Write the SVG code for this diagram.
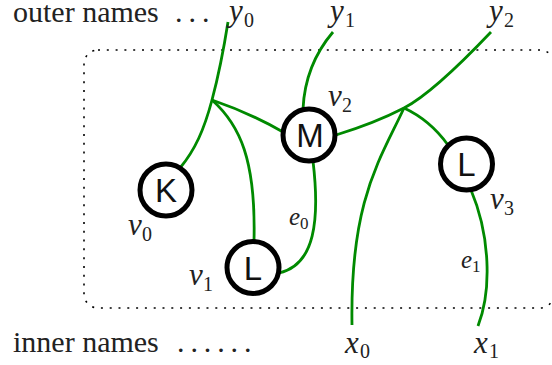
<svg xmlns="http://www.w3.org/2000/svg" width="552" height="365" viewBox="0 0 552 365">
<style>
.lbl{font-family:"Liberation Serif","Times New Roman",serif;font-size:30px;fill:#222}
.mi{font-family:"Liberation Serif","Times New Roman",serif;font-style:italic;font-size:31px;fill:#222}
.sub{font-family:"Liberation Serif","Times New Roman",serif;font-size:20px;fill:#222}
.me{font-family:"Liberation Serif","Times New Roman",serif;font-style:italic;font-size:25px;fill:#222}
.sube{font-family:"Liberation Serif","Times New Roman",serif;font-size:17px;fill:#222}
.edge{fill:none;stroke:#008a00;stroke-width:2.8;stroke-linecap:butt}
.node circle{fill:#fff;stroke:#000;stroke-width:5}
.node text{font-family:"Liberation Sans",Arial,sans-serif;font-size:33px;fill:#111;text-anchor:middle}
</style>
<rect x="84" y="50" width="470" height="258" rx="14" fill="none" stroke="#000" stroke-width="1.6" stroke-dasharray="2 6.8"/>
<text class="lbl" y="22"><tspan x="13">outer names</tspan><tspan x="175" letter-spacing="6">...</tspan></text>
<text class="lbl" y="352"><tspan x="13">inner names</tspan><tspan x="177" letter-spacing="5.9">......</tspan></text>
<g id="connectors">
<path class="edge" d="M228,22 C222,60 216,85 212,100 C204,130 195,150 180,168"/>
<path class="edge" d="M212,100 C240,125 256,160 254,241"/>
<path class="edge" d="M212,100 Q250,113 283,132"/>
<path class="edge" d="M333,32 Q305,65 303,109"/>
<path class="edge" d="M336,135 Q375,123 404,108 T491,32"/>
<path class="edge" d="M404,108 C380,160 350,200 352,325"/>
<path class="edge" d="M404,108 Q430,120 448,145"/>
<path class="edge" d="M471,190 C490,235 492,290 478,326"/>
<path class="edge" d="M313,161 C320,220 315,265 279,273"/>
</g>
<g id="v0" class="node"><circle cx="166" cy="190" r="26"/><text x="166" y="202">K</text></g>
<g id="v1" class="node"><circle cx="253" cy="267.5" r="26"/><text x="253" y="279.5">L</text></g>
<g id="v2" class="node"><circle cx="309" cy="135" r="26"/><text x="310" y="147">M</text></g>
<g id="v3" class="node"><circle cx="466.5" cy="164" r="26"/><text x="466.5" y="176">L</text></g>
<g id="labels">
<text class="mi" x="229" y="21">y</text><text class="sub" x="244" y="27">0</text>
<text class="mi" x="330" y="21">y</text><text class="sub" x="345" y="27">1</text>
<text class="mi" x="489" y="21">y</text><text class="sub" x="504" y="27">2</text>
<text class="mi" x="345" y="353">x</text><text class="sub" x="360" y="358">0</text>
<text class="mi" x="474" y="353">x</text><text class="sub" x="489" y="358">1</text>
<text class="mi" x="128" y="235">v</text><text class="sub" x="142" y="241">0</text>
<text class="mi" x="189" y="285">v</text><text class="sub" x="203" y="291">1</text>
<text class="mi" x="328" y="106">v</text><text class="sub" x="342" y="112">2</text>
<text class="mi" x="490" y="209">v</text><text class="sub" x="504" y="215">3</text>
<text class="me" x="289" y="225">e</text><text class="sube" x="300" y="229">0</text>
<text class="me" x="461" y="268">e</text><text class="sube" x="472" y="272">1</text>
</g>
</svg>
